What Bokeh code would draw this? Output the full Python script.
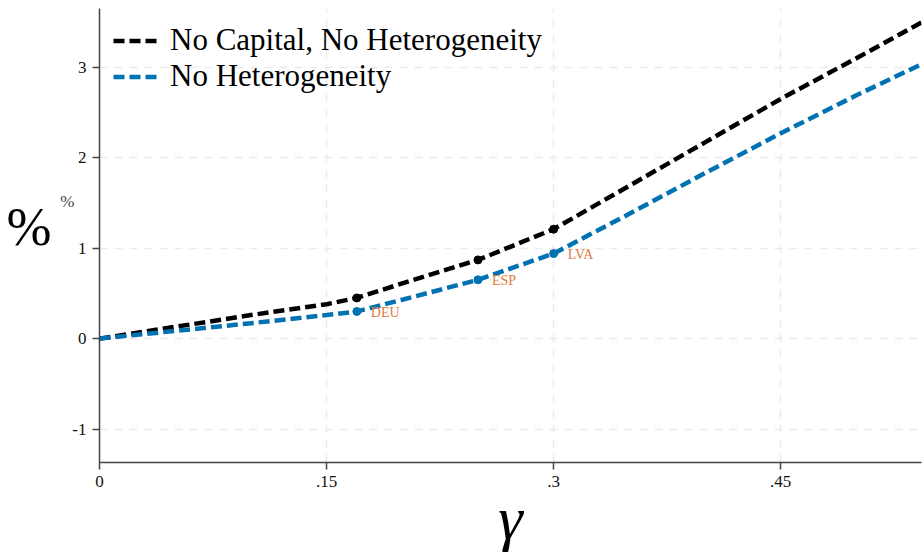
from bokeh.plotting import figure
from bokeh.models import (ColumnDataSource, FixedTicker, CustomJSTickFormatter, Legend,
                          LegendItem, LinearAxis, Range1d)
from bokeh.embed import file_html
from bokeh.resources import INLINE

# ---- data ----
gamma = [0.0, 0.05, 0.10, 0.15, 0.17, 0.20, 0.25, 0.30, 0.35, 0.40, 0.45, 0.50, 0.55]
no_cap_no_het = [0.0, 0.13, 0.26, 0.38, 0.45, 0.61, 0.87, 1.21, 1.69, 2.17, 2.65, 3.10, 3.56]
no_het = [0.0, 0.085, 0.17, 0.26, 0.30, 0.43, 0.65, 0.94, 1.38, 1.83, 2.27, 2.69, 3.09]

countries = ["DEU", "ESP", "LVA"]
country_gamma = [0.17, 0.25, 0.30]
country_black = [0.45, 0.87, 1.21]
country_blue = [0.30, 0.65, 0.94]

x_ticks = [0, 0.15, 0.30, 0.45]
y_ticks = [-1, 0, 1, 2, 3]

FONT = "Liberation Serif"
BLACK = "#000000"
BLUE = "#0072B2"
ORANGE = "#E07B3C"

p = figure(width=922, height=555, output_backend="svg", toolbar_location=None,
           x_range=Range1d(0, 0.543), y_range=Range1d(-1.37, 3.65),
           min_border_left=99, min_border_right=1, min_border_top=8, min_border_bottom=93)
p.outline_line_color = None
p.background_fill_color = "white"

src_black = ColumnDataSource(dict(x=gamma, y=no_cap_no_het))
src_blue = ColumnDataSource(dict(x=gamma, y=no_het))
r1 = p.line("x", "y", source=src_black, line_color=BLACK, line_width=4.5, line_dash="11 5")
r2 = p.line("x", "y", source=src_blue, line_color=BLUE, line_width=4.5, line_dash="11 5")

pts = ColumnDataSource(dict(x=country_gamma, yb=country_black, yl=country_blue, name=countries))
p.scatter("x", "yb", source=pts, size=8, color=BLACK)
p.scatter("x", "yl", source=pts, size=8, color=BLUE)
p.text("x", "yl", text="name", source=pts, x_offset=14, y_offset=1,
       text_color=ORANGE, text_font_size="14px", text_font={"value": FONT},
       text_baseline="middle", text_align="left")

legend = Legend(items=[LegendItem(label="No Capital, No Heterogeneity", renderers=[r1]),
                       LegendItem(label="No Heterogeneity", renderers=[r2])],
                location="top_left", border_line_color=None, background_fill_alpha=0,
                margin=14, padding=0, spacing=-3, glyph_width=45, glyph_height=33,
                label_height=33, label_standoff=12, label_text_color="#000000",
                label_text_font=FONT, label_text_font_size="31px")
p.add_layout(legend)

# axes
for ax in (p.xaxis, p.yaxis):
    ax.axis_line_color = "#444444"
    ax.axis_line_width = 1.5
    ax.major_tick_line_color = "#444444"
    ax.major_tick_line_width = 1.5
    ax.major_tick_out = 7
    ax.major_tick_in = 0
    ax.minor_tick_line_color = None
    ax.major_label_text_font = FONT
    ax.major_label_text_font_size = "17px"
    ax.major_label_text_color = "#111111"
    ax.axis_label_text_font = FONT
    ax.axis_label_text_font_style = "normal"

p.xaxis.ticker = FixedTicker(ticks=x_ticks)
p.xaxis.formatter = CustomJSTickFormatter(
    code='return tick == 0 ? "0" : tick.toFixed(2).replace(/^0/, "").replace(/0$/, "");')
p.xaxis.major_label_standoff = 6
p.xaxis.axis_label = "γ"
p.xaxis.axis_label_text_font_size = "62px"
p.xaxis.axis_label_text_font_style = "italic"
p.xaxis.axis_label_text_color = "#000000"
p.xaxis.axis_label_standoff = -6

# inner left axis: ticks, tick labels and the small "%" unit label
p.yaxis.ticker = FixedTicker(ticks=y_ticks)
p.yaxis.formatter = CustomJSTickFormatter(code='return tick.toString();')
p.yaxis.major_label_standoff = 6
p.yaxis.axis_label = "%\n \n \n "
p.yaxis.axis_label_orientation = "horizontal"
p.yaxis.axis_label_text_font_size = "17px"
p.yaxis.axis_label_text_color = "#444444"
p.yaxis.axis_label_standoff = -5

# outer left axis: only the large "%" title
outer = LinearAxis(ticker=FixedTicker(ticks=[]), axis_line_color=None,
                   major_tick_line_color=None, minor_tick_line_color=None,
                   axis_label="%\n ", axis_label_orientation="horizontal",
                   axis_label_text_font=FONT, axis_label_text_font_size="54px",
                   axis_label_text_line_height=0.3,
                   axis_label_text_font_style="normal", axis_label_text_color="#000000",
                   axis_label_standoff=6)
p.add_layout(outer, "left")

# grid
for g in (p.xgrid, p.ygrid):
    g.grid_line_color = "#ebebeb"
    g.grid_line_width = 1.5
    g.grid_line_dash = "8 7"

open("out.html", "w").write(file_html(p, INLINE))
